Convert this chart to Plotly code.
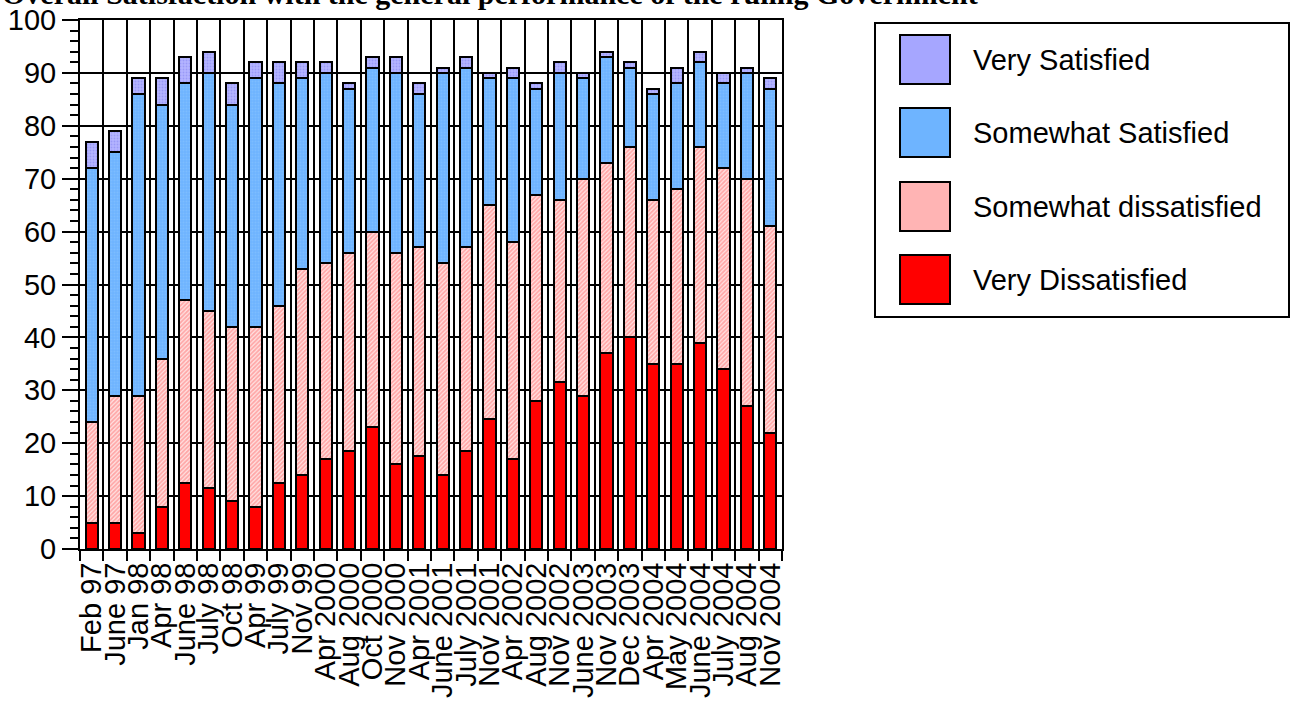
import plotly.graph_objects as go

categories = ["Feb 97", "June 97", "Jan 98", "Apr 98", "June 98", "July 98", "Oct 98",
              "Apr 99", "July 99", "Nov 99", "Apr 2000", "Aug 2000", "Oct 2000", "Nov 2000",
              "Apr 2001", "June 2001", "July 2001", "Nov 2001", "Apr 2002", "Aug 2002",
              "Nov 2002", "June 2003", "Nov 2003", "Dec 2003", "Apr 2004", "May 2004",
              "June 2004", "July 2004", "Aug 2004", "Nov 2004"]

very_dissatisfied = [5, 5, 3, 8, 12.5, 11.5, 9, 8, 12.5, 14, 17, 18.5, 23, 16, 17.5,
                     14, 18.5, 24.5, 17, 28, 31.5, 29, 37, 40, 35, 35, 39, 34, 27, 22]
somewhat_dissatisfied = [19, 24, 26, 28, 34.5, 33.5, 33, 34, 33.5, 39, 37, 37.5, 37, 40, 39.5,
                         40, 38.5, 40.5, 41, 39, 34.5, 41, 36, 36, 31, 33, 37, 38, 43, 39]
somewhat_satisfied = [48, 46, 57, 48, 41, 45, 42, 47, 42, 36, 36, 31, 31, 34, 29,
                      36, 34, 24, 31, 20, 24, 19, 20, 15, 20, 20, 16, 16, 20, 26]
very_satisfied = [5, 4, 3, 5, 5, 4, 4, 3, 4, 3, 2, 1, 2, 3, 2,
                  1, 2, 1, 2, 1, 2, 1, 1, 1, 1, 3, 2, 2, 1, 2]

series = [
    ("Very Dissatisfied", very_dissatisfied, "#FF0000", None),
    ("Somewhat dissatisfied", somewhat_dissatisfied, "#FFA8A8",
     dict(shape="/", fgcolor="#FF6A6A", bgcolor="#FFE4E4", size=3, solidity=0.6)),
    ("Somewhat Satisfied", somewhat_satisfied, "#6EB4FF",
     dict(shape=".", fgcolor="#8CC4FF", bgcolor="#6EB4FF", size=3, solidity=0.3)),
    ("Very Satisfied", very_satisfied, "#A6A6FF",
     dict(shape=".", fgcolor="#8080F0", bgcolor="#B4B4FF", size=3, solidity=0.3)),
]

FONT = "Arial, Liberation Sans, sans-serif"
W, H = 1293, 704
L, R, T, B = 80, 782, 20, 549


def pxx(p):
    return (p - L) / (R - L)


def pxy(p):
    return (B - p) / (B - T)


fig = go.Figure()
for name, vals, color, pat in series:
    marker = dict(color=color, line=dict(color="black", width=2))
    if pat:
        marker["pattern"] = pat
    fig.add_trace(go.Bar(x=categories, y=vals, name=name, marker=marker, showlegend=False))

shapes = []
annotations = []
# legend box
shapes.append(dict(type="rect", xref="paper", yref="paper",
                   x0=pxx(875), x1=pxx(1289), y0=pxy(317), y1=pxy(23),
                   line=dict(color="black", width=2), fillcolor="white"))
legend_items = [("Very Satisfied", "#A6A6FF", 35),
                ("Somewhat Satisfied", "#6EB4FF", 108),
                ("Somewhat dissatisfied", "#FFB4B4", 182),
                ("Very Dissatisfied", "#FF0000", 255)]
for label, col, top in legend_items:
    shapes.append(dict(type="rect", xref="paper", yref="paper",
                       x0=pxx(900), x1=pxx(950), y0=pxy(top + 49), y1=pxy(top),
                       line=dict(color="black", width=2), fillcolor=col))
    annotations.append(dict(xref="paper", yref="paper", x=pxx(971), y=pxy(top + 24.5),
                            xanchor="left", yanchor="middle", showarrow=False,
                            text=label, font=dict(family=FONT, size=29, color="black")))

# title (clipped at the top of the page as in the source)
annotations.append(dict(xref="paper", yref="paper", x=pxx(0), y=pxy(12),
                        xanchor="left", yanchor="bottom", showarrow=False,
                        text="<b>Overall Satisfaction with the general performance of the ruling Government</b>",
                        font=dict(family="Liberation Serif, Times New Roman, serif", size=30, color="black")))

fig.update_layout(
    barmode="stack",
    bargap=0.48,
    width=W, height=H,
    margin=dict(l=L, r=W - R, t=T, b=H - B, pad=0, autoexpand=False),
    paper_bgcolor="white", plot_bgcolor="white",
    font=dict(family=FONT, color="black"),
    shapes=shapes,
    annotations=annotations,
    xaxis=dict(type="category", tickson="boundaries", tickangle=-90,
               tickmode="array", tickvals=categories, ticktext=categories,
               automargin=False,
               ticks="outside", ticklen=10, tickwidth=2, tickcolor="black",
               showgrid=True, gridcolor="black", gridwidth=2,
               showline=True, linecolor="black", linewidth=2, mirror=True,
               tickfont=dict(family=FONT, size=29, color="black")),
    yaxis=dict(range=[0, 100], dtick=10, tick0=0, automargin=False,
               ticks="outside", ticklen=16, tickwidth=2, tickcolor="black",
               showgrid=True, gridcolor="black", gridwidth=2,
               showline=True, linecolor="black", linewidth=2, mirror=True,
               zeroline=False,
               tickfont=dict(family=FONT, size=29, color="black"),
               minor=dict(dtick=2, ticks="outside", ticklen=8, tickwidth=2,
                          tickcolor="black", showgrid=False)),
)

fig.write_html("out.html",
               config={"displayModeBar": False},
               post_script="document.body.style.margin='0px';document.body.style.overflow='hidden';")
